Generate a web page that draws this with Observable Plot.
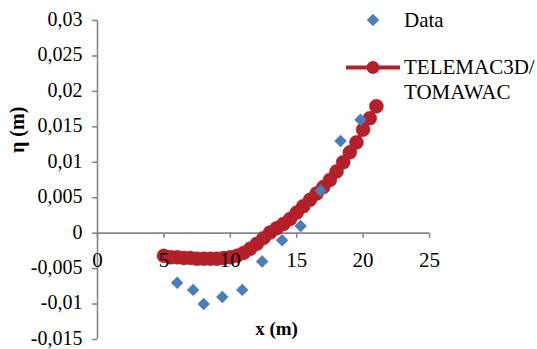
<!DOCTYPE html>
<html>
<head>
<meta charset="utf-8">
<script src="https://cdn.jsdelivr.net/npm/d3@7"></script>
<script src="https://cdn.jsdelivr.net/npm/@observablehq/plot@0.6"></script>
<style>
  html, body { margin: 0; padding: 0; background: #fff; }
  #wrap { position: relative; width: 537px; height: 349px; }
  #legend { position: absolute; left: 0; top: 0; pointer-events: none; }
</style>
</head>
<body>
<div id="wrap"></div>
<script>
// ---- data ----
const dataX = [6.0, 7.2, 8.0, 9.4, 10.9, 12.4, 13.9, 15.3, 16.8, 18.3, 19.8];
const dataY = [-0.007, -0.008, -0.010, -0.009, -0.008, -0.004, -0.001, 0.001, 0.006, 0.013, 0.016];

const modelX = [5, 5.5, 6, 6.5, 7, 7.5, 8, 8.5, 9, 9.5, 10, 10.5, 11, 11.5, 12, 12.5, 13,
                13.5, 14, 14.5, 15, 15.5, 16, 16.5, 17, 17.5, 18, 18.5, 19, 19.5, 20, 20.5, 21];
const modelY = [-0.0032, -0.0034, -0.0034, -0.0035, -0.0035, -0.0036, -0.0036, -0.0036, -0.0036,
                -0.0035, -0.0034, -0.0032, -0.0028, -0.0022, -0.0015, -0.0007, 0.0001,
                0.0007, 0.0013, 0.0020, 0.0029, 0.0038, 0.0047, 0.0056, 0.0065, 0.0075,
                0.0087, 0.0100, 0.0114, 0.0128, 0.0146, 0.0162, 0.0179];

const xTicks = [0, 5, 10, 15, 20, 25];
const xTickLabels = ["0", "5", "10", "15", "20", "25"];
const yTicks = [0.03, 0.025, 0.02, 0.015, 0.01, 0.005, 0, -0.005, -0.01, -0.015];
const yTickLabels = ["0,03", "0,025", "0,02", "0,015", "0,01", "0,005", "0", "-0,005", "-0,01", "-0,015"];

const seriesNames = ["Data", "TELEMAC3D/", "TOMAWAC"];
const xTitle = "x (m)";
const yTitle = "η (m)";

// ---- build tables ----
const dataPts = dataX.map((x, i) => ({x, y: dataY[i]}));
const modelPts = modelX.map((x, i) => ({x, y: modelY[i]}));
const xt = xTicks.map((v, i) => ({v, label: xTickLabels[i]}));
const yt = yTicks.map((v, i) => ({v, label: yTickLabels[i]}));

const AXIS = "#878787";
const RED = "#B3202A";
const BLUE = "#4A7EBB";
const FONT = "'Times New Roman', 'Liberation Serif', serif";

const chart = Plot.plot({
  width: 537,
  height: 349,
  marginLeft: 97,
  marginRight: 108,
  marginTop: 20,
  marginBottom: 10,
  style: {fontFamily: FONT, background: "#fff", overflow: "visible"},
  x: {domain: [0, 25], axis: null},
  y: {domain: [-0.015, 0.03], axis: null},
  marks: [
    // y axis line and ticks
    Plot.ruleX([0], {y1: -0.015, y2: 0.03, stroke: AXIS, strokeWidth: 1.6}),
    Plot.ruleY(yt, {y: "v", x1: 0, x2: -0.38, stroke: AXIS, strokeWidth: 1.6}),
    Plot.text(yt, {x: 0, y: "v", text: "label", dx: -15, dy: -1, textAnchor: "end",
      lineAnchor: "middle", fontSize: 20, fill: "#000"}),
    // x axis line (at y = 0) and ticks
    Plot.ruleY([0], {x1: 0, x2: 25, stroke: AXIS, strokeWidth: 1.6}),
    Plot.ruleX(xt, {x: "v", y1: 0, y2: -0.0007, stroke: AXIS, strokeWidth: 1.6}),
    // model series
    Plot.line(modelPts, {x: "x", y: "y", stroke: RED, strokeWidth: 4}),
    Plot.dot(modelPts, {x: "x", y: "y", r: 7, fill: RED, stroke: RED, strokeWidth: 0.5}),
    // measured data
    Plot.dot(dataPts, {x: "x", y: "y", symbol: "diamond2", r: 5.6, fill: BLUE, stroke: "none"}),
    // x tick labels (drawn over the marks, as in the reference)
    Plot.text(xt, {x: "v", y: 0, text: "label", dy: 27, textAnchor: "middle",
      lineAnchor: "middle", fontSize: 21, fill: "#000"}),
    // axis titles
    Plot.text([xTitle], {frameAnchor: "bottom", text: d => d, dx: 13, dy: -11,
      lineAnchor: "middle", fontSize: 19, fontWeight: "bold", fill: "#000"}),
    Plot.text([yTitle], {frameAnchor: "left", text: d => d, dx: -80, dy: -27, rotate: -90,
      lineAnchor: "middle", fontSize: 20, fontWeight: "bold", fill: "#000"})
  ]
});

const wrap = document.getElementById("wrap");
wrap.appendChild(chart);

// ---- legend (overlay at the upper right) ----
const ns = "http://www.w3.org/2000/svg";
const leg = document.createElementNS(ns, "svg");
leg.setAttribute("id", "legend");
leg.setAttribute("width", 537);
leg.setAttribute("height", 349);
function el(name, attrs, text) {
  const e = document.createElementNS(ns, name);
  for (const k in attrs) e.setAttribute(k, attrs[k]);
  if (text) e.textContent = text;
  leg.appendChild(e);
  return e;
}
const diamond = d3.symbol(d3.symbolDiamond2, Math.PI * 5.6 * 5.6)();
el("path", {d: diamond, transform: "translate(373,20)", fill: BLUE});
el("text", {x: 404, y: 20, dy: "0.32em", "font-family": FONT, "font-size": 21, fill: "#000"}, seriesNames[0]);
el("line", {x1: 346, x2: 400, y1: 67.5, y2: 67.5, stroke: RED, "stroke-width": 4});
el("circle", {cx: 373, cy: 67.5, r: 6.5, fill: RED});
el("text", {x: 404, y: 67, dy: "0.32em", "font-family": FONT, "font-size": 21, fill: "#000"}, seriesNames[1]);
el("text", {x: 404, y: 92.5, dy: "0.32em", "font-family": FONT, "font-size": 21, fill: "#000"}, seriesNames[2]);
wrap.appendChild(leg);
</script>
</body>
</html>
